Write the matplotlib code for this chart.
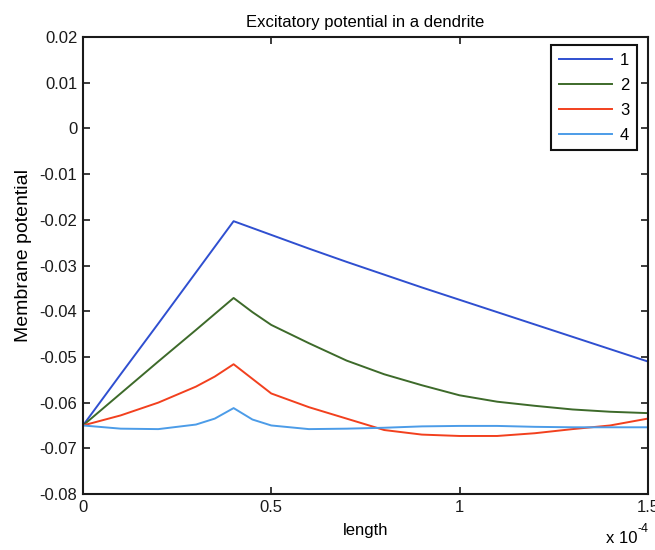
import matplotlib
matplotlib.use('Agg')
import matplotlib.pyplot as plt

# distance along the dendrite, in units of 1e-4
length = [0, 0.1, 0.2, 0.3, 0.35, 0.4, 0.45, 0.5, 0.6, 0.7, 0.8, 0.9, 1.0, 1.1, 1.2, 1.3, 1.4, 1.5]

v1 = [-0.065, -0.0538, -0.0427, -0.0315, -0.0259, -0.0203, -0.0218, -0.0233, -0.0263, -0.0292,
      -0.0320, -0.0348, -0.0375, -0.0402, -0.0429, -0.0456, -0.0483, -0.0510]
v2 = [-0.065, -0.0580, -0.0510, -0.0441, -0.0406, -0.0371, -0.0402, -0.0430, -0.0470, -0.0508,
      -0.0538, -0.0562, -0.0584, -0.0598, -0.0607, -0.0615, -0.0620, -0.0623]
v3 = [-0.065, -0.0628, -0.0600, -0.0565, -0.0543, -0.0516, -0.0548, -0.0580, -0.0610, -0.0635,
      -0.0660, -0.0670, -0.0673, -0.0673, -0.0667, -0.0658, -0.0650, -0.0635]
v4 = [-0.065, -0.0657, -0.0658, -0.0648, -0.0635, -0.0612, -0.0637, -0.0650, -0.0658, -0.0657,
      -0.0655, -0.0652, -0.0651, -0.0651, -0.0653, -0.0654, -0.0654, -0.0654]

labels = ['1', '2', '3', '4']
colors = ['#2f4fd0', '#3d6a2a', '#f2401e', '#4c9ce8']

xticks = [0, 0.5, 1, 1.5]
xticklabels = ['0', '0.5', '1', '1.5']
yticks = [-0.08, -0.07, -0.06, -0.05, -0.04, -0.03, -0.02, -0.01, 0, 0.01, 0.02]
yticklabels = ['-0.08', '-0.07', '-0.06', '-0.05', '-0.04', '-0.03', '-0.02', '-0.01', '0', '0.01', '0.02']

plt.rcParams['font.family'] = ['Liberation Sans', 'DejaVu Sans']


def main():
    fig = plt.figure(figsize=(6.55, 5.5), dpi=100)
    ax = fig.add_axes([0.1267, 0.1018, 0.8623, 0.8309])

    for v, lab, c in zip([v1, v2, v3, v4], labels, colors):
        ax.plot(length, v, color=c, linewidth=1.4, label=lab)

    ax.set_xlim(0, 1.5)
    ax.set_ylim(-0.08, 0.02)
    ax.set_xticks(xticks)
    ax.set_xticklabels(xticklabels)
    ax.set_yticks(yticks)
    ax.set_yticklabels(yticklabels)
    ax.tick_params(direction='in', length=5, width=1.2, top=True, right=True,
                   labelsize=12, colors='#1a1a1a', pad=4)
    for s in ax.spines.values():
        s.set_linewidth(1.5)
        s.set_color('#1a1a1a')

    ax.set_title('Excitatory potential in a dendrite', fontsize=12, pad=7)
    ax.set_xlabel('length', fontsize=12, labelpad=6)
    ax.set_ylabel('Membrane potential', fontsize=14)
    ax.yaxis.set_label_coords(-0.09, 0.523)

    # axis multiplier, drawn as plain text with a raised exponent
    ax.text(0.982, -0.108, 'x 10', transform=ax.transAxes, ha='right', va='baseline', fontsize=12)
    ax.text(0.982, -0.083, '-4', transform=ax.transAxes, ha='left', va='baseline', fontsize=9)

    leg = ax.legend(loc='upper right', fontsize=12, handlelength=3.18, handletextpad=0.48,
                    borderpad=0.45, labelspacing=0.6, borderaxespad=0, fancybox=False,
                    framealpha=1, edgecolor='#111111', bbox_to_anchor=(0.9805, 0.9825))
    leg.get_frame().set_linewidth(1.5)

    plt.savefig('out.png', dpi=100)


if __name__ == '__main__':
    main()
